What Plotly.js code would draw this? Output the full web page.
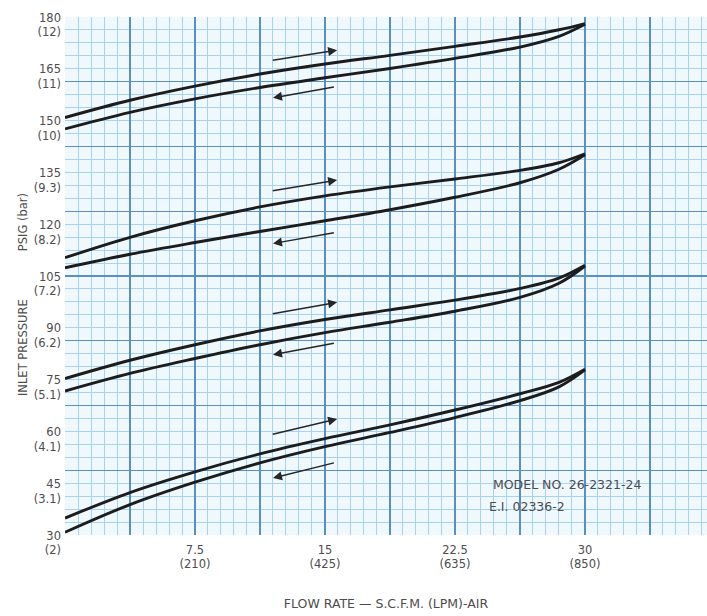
<!DOCTYPE html>
<html>
<head>
<meta charset="utf-8">
<script src="https://cdn.plot.ly/plotly-3.0.1.min.js"></script>
<style>html,body{margin:0;padding:0;background:#fff;}#chart{width:707px;height:616px;}</style>
</head>
<body>
<div id="chart"></div>
<script>
// Flow rate sample positions (S.C.F.M.)
const flow = [0, 3.75, 7.5, 11.25, 15, 18.75, 22.5, 26.25, 28.5, 30];

// Inlet pressure (PSIG) – four hysteresis pairs, upper (increasing) and lower (decreasing)
const p1Upper = [150.9, 155.9, 160.0, 163.5, 166.4, 168.9, 171.5, 174.2, 176.3, 178.1];
const p1Lower = [147.6, 152.4, 156.3, 159.6, 162.4, 165.1, 168.0, 171.3, 174.4, 177.9];
const p2Upper = [110.3, 116.2, 121.0, 125.0, 128.2, 130.8, 133.1, 135.6, 137.8, 140.4];
const p2Lower = [107.4, 111.3, 114.7, 117.9, 121.0, 124.2, 127.8, 132.0, 135.9, 140.1];
const p3Upper = [75.3, 80.6, 85.1, 89.1, 92.4, 95.2, 98.0, 101.4, 104.4, 108.1];
const p3Lower = [71.7, 76.8, 81.1, 85.1, 88.6, 91.6, 94.8, 98.8, 102.9, 107.9];
const p4Upper = [34.9, 42.3, 48.3, 53.5, 57.9, 61.9, 66.2, 70.9, 74.2, 78.0];
const p4Lower = [30.8, 38.8, 45.3, 50.9, 55.6, 59.7, 64.0, 68.9, 72.9, 77.8];

// Direction arrows (tail -> head)
const upTailX = 11.9, upHeadX = 15.7;
const upTailY = [167.4, 129.6, 94.0, 59.1];
const upHeadY = [170.4, 132.8, 97.4, 63.6];
const dnTailX = 15.6, dnHeadX = 12.0;
const dnTailY = [159.8, 117.6, 85.6, 51.0];
const dnHeadY = [156.6, 114.4, 82.2, 46.5];

// Tick labels
const xTickVals = [7.5, 15, 22.5, 30];
const xTickText = ['7.5<br>(210)', '15<br>(425)', '22.5<br>(635)', '30<br>(850)'];
const yTickVals = [30, 45, 60, 75, 90, 105, 120, 135, 150, 165, 180];
const yTickText = ['30<br>(2)', '45<br>(3.1)', '60<br>(4.1)', '75<br>(5.1)', '90<br>(6.2)', '105<br>(7.2)',
                   '120<br>(8.2)', '135<br>(9.3)', '150<br>(10)', '165<br>(11)', '180<br>(12)'];

const FONT = 'DejaVu Sans, Liberation Sans, Arial, sans-serif';
const TXT = '#4d4d4d';
const series = [p1Upper, p1Lower, p2Upper, p2Lower, p3Upper, p3Lower, p4Upper, p4Lower];

const traces = series.map(s => ({
  x: flow, y: s, type: 'scatter', mode: 'lines',
  line: {color: '#1c1c1c', width: 2.9, shape: 'spline', smoothing: 1},
  hoverinfo: 'skip', showlegend: false
}));
// carrier for the graph-paper grid axes
traces.push({x: [], y: [], type: 'scatter', mode: 'lines', xaxis: 'x2', yaxis: 'y2', showlegend: false});

const annotations = [];
for (let i = 0; i < upTailY.length; i++) {
  annotations.push({x: upHeadX, y: upHeadY[i], ax: upTailX, ay: upTailY[i], xref: 'x', yref: 'y',
    axref: 'x', ayref: 'y', text: '', showarrow: true, arrowhead: 2, arrowsize: 1.2, arrowwidth: 1.5,
    arrowcolor: '#262626', standoff: 0, startstandoff: 0});
  annotations.push({x: dnHeadX, y: dnHeadY[i], ax: dnTailX, ay: dnTailY[i], xref: 'x', yref: 'y',
    axref: 'x', ayref: 'y', text: '', showarrow: true, arrowhead: 2, arrowsize: 1.2, arrowwidth: 1.5,
    arrowcolor: '#262626', standoff: 0, startstandoff: 0});
}
annotations.push({x: 24.55, y: 44.5, xref: 'x', yref: 'y', xanchor: 'left', yanchor: 'middle',
  text: 'MODEL NO. 26-2321-24', showarrow: false, font: {family: FONT, size: 12.5, color: TXT}});
annotations.push({x: 24.35, y: 38.2, xref: 'x', yref: 'y', xanchor: 'left', yanchor: 'middle',
  text: 'E.I. 02336-2', showarrow: false, font: {family: FONT, size: 12.5, color: TXT}});
annotations.push({x: -0.0794, y: 0.361, xref: 'paper', yref: 'paper', textangle: -90,
  text: 'INLET PRESSURE', showarrow: false, font: {family: FONT, size: 11.5, color: TXT}});
annotations.push({x: -0.0794, y: 0.604, xref: 'paper', yref: 'paper', textangle: -90,
  text: 'PSIG (bar)', showarrow: false, font: {family: FONT, size: 11.5, color: TXT}});

const XR = [0, 37.04], YR = [30, 180];
const layout = {
  width: 707, height: 616,
  margin: {l: 65, r: 0, t: 17, b: 81, pad: 0},
  paper_bgcolor: '#ffffff', plot_bgcolor: '#eef8fd',
  showlegend: false,
  font: {family: FONT, color: TXT},
  xaxis: {range: XR, tickmode: 'array', tickvals: xTickVals, ticktext: xTickText,
    showgrid: false, zeroline: false, showline: false, ticks: '', fixedrange: true,
    tickfont: {family: FONT, size: 11.5, color: TXT}, ticklabelstandoff: 6,
    title: {text: 'FLOW RATE — S.C.F.M. (LPM)-AIR', standoff: 28, font: {family: FONT, size: 12.5, color: TXT}}},
  yaxis: {range: YR, tickmode: 'array', tickvals: yTickVals, ticktext: yTickText,
    showgrid: false, zeroline: false, showline: false, ticks: '', fixedrange: true,
    ticklabelshift: 8, ticklabelstandoff: 3,
    tickfont: {family: FONT, size: 11.5, color: TXT}},
  xaxis2: {overlaying: 'x', anchor: 'y2', range: XR, tickmode: 'linear', tick0: 0, dtick: 3.75,
    showgrid: true, gridcolor: '#5a8fc2', gridwidth: 1.3, showticklabels: false, ticks: '',
    zeroline: false, showline: false, fixedrange: true,
    minor: {tickmode: 'linear', tick0: 0, dtick: 0.75, showgrid: true, gridcolor: '#a8d2ee', gridwidth: 1, ticks: ''}},
  yaxis2: {overlaying: 'y', anchor: 'x2', range: YR, tickmode: 'linear', tick0: 30, dtick: 18.75,
    showgrid: true, gridcolor: '#5a8fc2', gridwidth: 1.3, showticklabels: false, ticks: '',
    zeroline: false, showline: false, fixedrange: true,
    minor: {tickmode: 'linear', tick0: 30, dtick: 3.75, showgrid: true, gridcolor: '#a8d2ee', gridwidth: 1, ticks: ''}},
  annotations: annotations
};

Plotly.newPlot('chart', traces, layout, {displayModeBar: false, staticPlot: true});
</script>
</body>
</html>
